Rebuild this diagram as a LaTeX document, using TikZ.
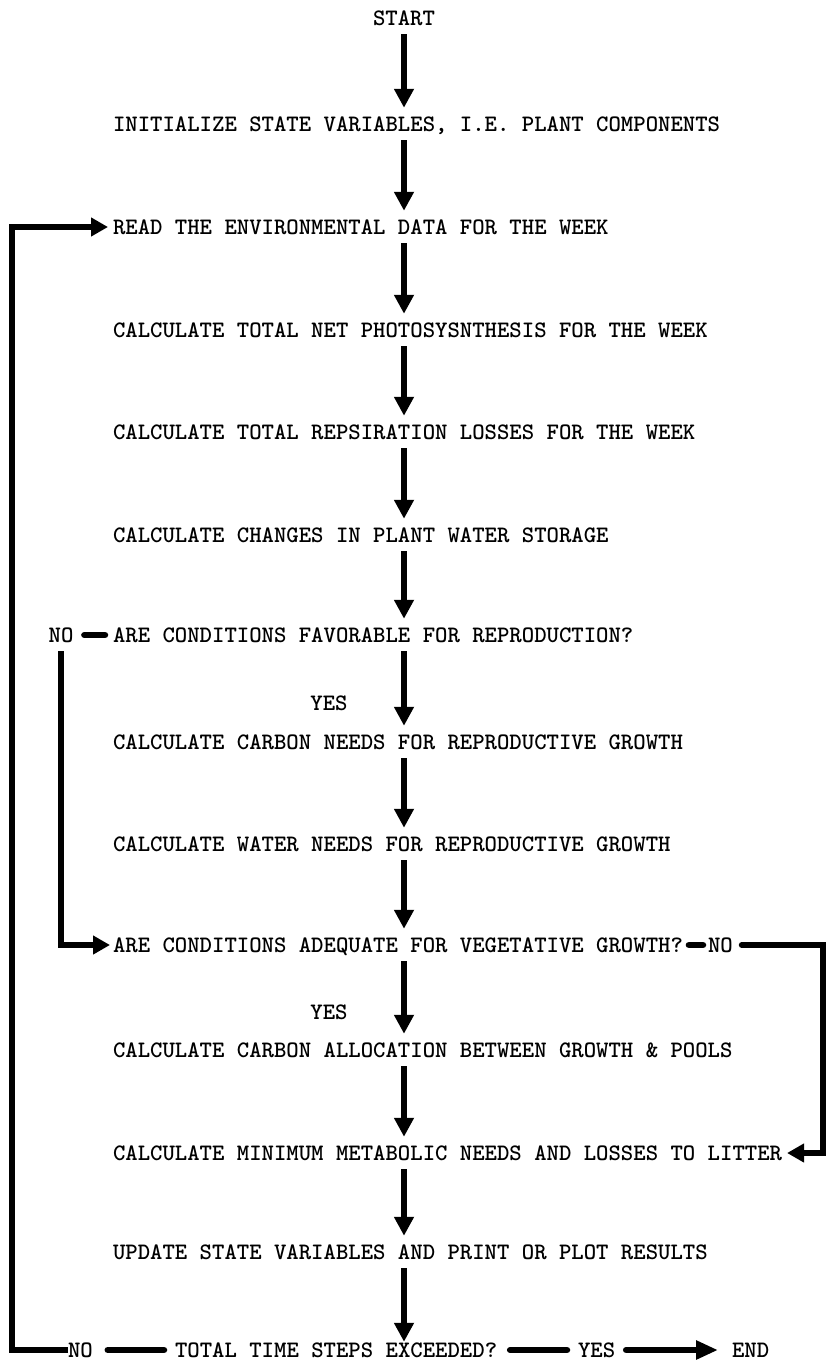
\documentclass[tikz,border=0pt]{standalone}
\usetikzlibrary{arrows.meta}
\begin{document}
\begin{tikzpicture}[x=1pt,y=-1pt,
  lbl/.style={font=\ttfamily\bfseries\fontsize{23.6pt}{24pt}\selectfont, text height=14.5pt, text depth=0pt,
    inner xsep=0pt, inner ysep=9pt, outer sep=0pt, anchor=west},
  flow/.style={line width=6.5pt, -{Triangle[width=19pt,length=19pt]}},
  blob/.style={line width=6.5pt, line cap=round},
  loopline/.style={line width=6pt, -{Triangle[width=18pt,length=17pt]}}]
\useasboundingbox (0,0) rectangle (830,1365);
% reference columns
\coordinate (ax) at (404,0);
\coordinate (lx) at (12,0);
\coordinate (rx) at (823,0);
% labels
\node[lbl, anchor=center] (start) at (404,18) {START};
\node[lbl] (init) at (113,124) {INITIALIZE STATE VARIABLES, I.E. PLANT COMPONENTS};
\node[lbl] (read) at (113,227) {READ THE ENVIRONMENTAL DATA FOR THE WEEK};
\node[lbl] (photo) at (113,330) {CALCULATE TOTAL NET PHOTOSYSNTHESIS FOR THE WEEK};
\node[lbl] (resp) at (113,432) {CALCULATE TOTAL REPSIRATION LOSSES FOR THE WEEK};
\node[lbl] (water0) at (113,535) {CALCULATE CHANGES IN PLANT WATER STORAGE};
\node[lbl] (fav) at (113,635) {ARE CONDITIONS FAVORABLE FOR REPRODUCTION?};
\node[lbl, anchor=center] (noA) at (61,635) {NO};
\node[lbl, anchor=center] (yesA) at (329,703) {YES};
\node[lbl] (carbon) at (113,742) {CALCULATE CARBON NEEDS FOR REPRODUCTIVE GROWTH};
\node[lbl] (water) at (113,844) {CALCULATE WATER NEEDS FOR REPRODUCTIVE GROWTH};
\node[lbl] (adeq) at (113,945) {ARE CONDITIONS ADEQUATE FOR VEGETATIVE GROWTH?};
\node[lbl] (noB) at (708,945) {NO};
\node[lbl, anchor=center] (yesB) at (329,1012) {YES};
\node[lbl] (alloc) at (113,1050) {CALCULATE CARBON ALLOCATION BETWEEN GROWTH \& POOLS};
\node[lbl] (minm) at (113,1153) {CALCULATE MINIMUM METABOLIC NEEDS AND LOSSES TO LITTER};
\node[lbl] (update) at (113,1252) {UPDATE STATE VARIABLES AND PRINT OR PLOT RESULTS};
\node[lbl] (noC) at (68,1350) {NO};
\node[lbl] (total) at (175,1350) {TOTAL TIME STEPS EXCEEDED?};
\node[lbl] (yesC) at (578,1350) {YES};
\node[lbl] (endn) at (732,1350) {END};
% main flow
\draw[flow] (start.south -| ax) -- (init.north -| ax);
\draw[flow] (init.south -| ax) -- (read.north -| ax);
\draw[flow] (read.south -| ax) -- (photo.north -| ax);
\draw[flow] (photo.south -| ax) -- (resp.north -| ax);
\draw[flow] (resp.south -| ax) -- (water0.north -| ax);
\draw[flow] (water0.south -| ax) -- (fav.north -| ax);
\draw[flow] (fav.south -| ax) -- (carbon.north -| ax);
\draw[flow] (carbon.south -| ax) -- (water.north -| ax);
\draw[flow] (water.south -| ax) -- (adeq.north -| ax);
\draw[flow] (adeq.south -| ax) -- (alloc.north -| ax);
\draw[flow] (alloc.south -| ax) -- (minm.north -| ax);
\draw[flow] (minm.south -| ax) -- (update.north -| ax);
\draw[flow, shorten >=-8pt] (update.south -| ax) -- (total.north -| ax);
% reproduction branch
\draw[blob, shorten <=11pt, shorten >=8pt] (noA.east) -- (fav.west);
\draw[loopline, shorten >=3pt] (noA.south) |- (adeq.west);
% vegetative branch
\draw[blob, shorten <=6pt, shorten >=5pt] (adeq.east) -- (noB.west);
\draw[loopline, line cap=round, shorten <=9pt, shorten >=5pt] (noB.east) -| (rx |- minm.east) -- (minm.east);
% bottom row
\draw[loopline, shorten >=5pt] (noC.west) -| (lx |- read.west) -- (read.west);
\draw[blob, shorten <=15pt, shorten >=11pt] (noC.east) -- (total.west);
\draw[blob, shorten <=13pt, shorten >=11pt] (total.east) -- (yesC.west);
\draw[blob, -{Triangle[width=18pt,length=22pt]}, shorten <=11pt, shorten >=14pt] (yesC.east) -- (endn.west);
\end{tikzpicture}
\end{document}
